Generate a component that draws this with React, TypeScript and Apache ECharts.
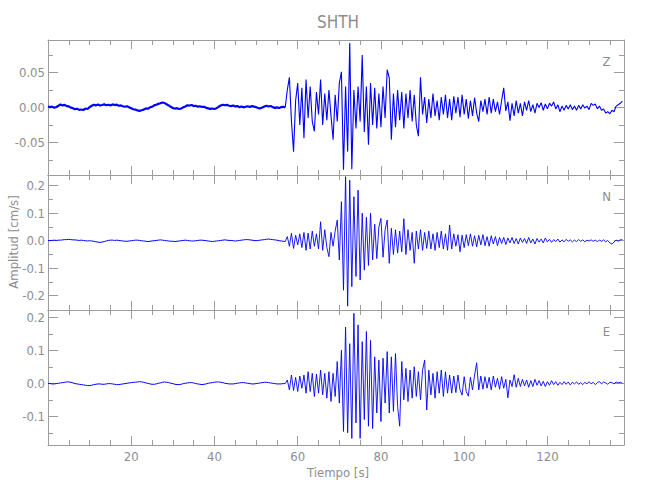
import React, { useEffect, useRef } from "react";
import * as echarts from "echarts";

// ---- sampling / x axis ----
const DT = 0.5; // seconds between samples
const X_MIN = 0;
const X_MAX = 138.4;
const xMajorTicks = [20, 40, 60, 80, 100, 120];
const xMinorTicks = [5, 10, 15, 25, 30, 35, 45, 50, 55, 65, 70, 75, 85, 90, 95, 105, 110, 115, 125, 130, 135];

// ---- Z component (cm/s), t = 0 .. 57 s ----
const zQuiet = [
  0.0015, 0.0005, 0.0012, -0.0002, 0.0008, 0.0025, 0.0042, 0.003, 0.0038, 0.002,
  0.0015, -0.0002, -0.001, -0.0025, -0.0018, -0.0034, -0.0028, -0.0036, -0.0015, -0.0022,
  0.0005, 0.0025, 0.004, 0.003, 0.0042, 0.0028, 0.0036, 0.0045, 0.0032, 0.004,
  0.003, 0.0044, 0.0035, 0.004, 0.0025, 0.003, 0.0018, 0.001, 0.0018, 0.0002,
  -0.001, -0.0025, -0.003, -0.0042, -0.0048, -0.004, -0.003, -0.0012, -0.0018, 0.0002,
  0.001, 0.003, 0.004, 0.0052, 0.006, 0.0072, 0.0065, 0.0045, 0.003, 0.001,
  -0.0008, -0.0015, -0.001, -0.0022, -0.0015, 0.0002, 0.0015, 0.0032, 0.0028, 0.0035,
  0.002, 0.0025, 0.0012, 0.0018, 0.0008, 0.001, -0.0005, -0.0012, -0.002, -0.0015,
  -0.0022, -0.001, 0.001, 0.0028, 0.004, 0.0032, 0.0038, 0.0025, 0.002, 0.0028,
  0.0015, 0.002, 0.0005, 0.0015, 0.0002, 0.001, 0.0018, 0.0008, 0.002, 0.0012,
  0.0005, -0.0008, -0.0012, 0.0, 0.0015, 0.0025, 0.0015, 0.0022, 0.0005, -0.0005,
  0.0002, -0.0008, 0.0005, 0.001, 0.0,
];
// ---- Z component (cm/s), t = 57.5 .. 138 s ----
const zActive = [
  0.025, 0.043, -0.02, -0.063, 0.01, 0.035, -0.025, 0.028, -0.044, 0.04,
  -0.015, 0.03, -0.02, -0.034, 0.022, -0.01, 0.04, -0.025, 0.02, -0.018,
  0.025, -0.012, -0.046, 0.018, -0.02, 0.035, 0.051, -0.089, 0.03, -0.063,
  0.092, -0.088, 0.025, -0.03, 0.03, -0.02, 0.075, -0.035, 0.03, -0.053,
  0.035, -0.025, 0.028, -0.03, 0.02, -0.028, 0.03, -0.015, 0.054, 0.042,
  -0.046, 0.02, -0.028, 0.025, -0.018, 0.022, -0.03, 0.02, -0.015, 0.025,
  -0.02, 0.018, -0.025, -0.041, 0.043, -0.01, 0.015, -0.022, 0.012, -0.015,
  0.02, -0.012, 0.01, -0.018, 0.015, -0.01, 0.018, -0.015, 0.012, -0.018,
  0.016, -0.008, 0.015, -0.014, 0.018, -0.01, 0.012, -0.016, 0.01, -0.012,
  0.014, -0.008, -0.02, 0.01, -0.006, 0.012, -0.01, 0.015, -0.008, 0.012,
  -0.006, 0.008, -0.01, 0.01, 0.028, -0.005, 0.008, -0.019, 0.006, -0.012,
  0.01, -0.008, 0.006, -0.012, 0.008, -0.004, 0.01, -0.006, 0.004, -0.008,
  0.006, 0.0, 0.007, -0.004, 0.005, -0.002, 0.006, 0.002, 0.008, -0.002,
  0.004, -0.006, 0.002, -0.004, 0.003, -0.002, 0.004, -0.003, 0.002, -0.004,
  0.003, -0.002, 0.004, -0.001, 0.002, -0.003, 0.006, 0.003, 0.005, -0.002,
  0.002, -0.004, -0.002, -0.008, -0.006, -0.009, -0.004, -0.006, 0.002, 0.004,
  0.006, 0.009,
];

// ---- N component (cm/s) ----
const nQuiet = [
  0.0, 0.001, 0.001, 0.002, 0.001, 0.002, 0.002, 0.003, 0.004, 0.004,
  0.005, 0.004, 0.003, 0.003, 0.002, 0.001, 0.002, 0.001, 0.0, -0.001,
  0.0, -0.001, -0.002, -0.004, -0.005, -0.006, -0.005, -0.003, -0.001, 0.001,
  0.002, 0.002, 0.001, 0.002, 0.001, 0.0, -0.001, -0.002, -0.002, -0.001,
  0.0, 0.001, 0.002, 0.002, 0.001, 0.0, -0.001, -0.002, -0.003, -0.002,
  -0.001, 0.0, 0.001, 0.002, 0.003, 0.002, 0.001, 0.0, -0.001, -0.002,
  -0.002, -0.003, -0.002, -0.001, 0.0, 0.001, 0.002, 0.001, 0.0, -0.001,
  -0.001, 0.0, 0.001, 0.002, 0.002, 0.001, 0.0, -0.001, -0.002, -0.003,
  -0.002, -0.001, 0.0, 0.001, 0.002, 0.003, 0.002, 0.001, 0.001, 0.0,
  -0.001, 0.0, 0.001, 0.002, 0.003, 0.004, 0.004, 0.003, 0.002, 0.001,
  0.0, 0.001, 0.002, 0.003, 0.004, 0.005, 0.006, 0.005, 0.004, 0.003,
  0.002, 0.0, -0.001, -0.002, -0.003,
];
const nActive = [
  0.015, -0.02, 0.027, -0.028, 0.02, -0.015, 0.025, -0.025, 0.03, -0.035,
  0.028, -0.03, 0.035, -0.02, 0.025, -0.03, 0.069, -0.035, 0.04, -0.025,
  -0.058, 0.03, -0.02, 0.035, 0.075, -0.07, 0.142, -0.18, 0.233, -0.238,
  0.22, -0.167, 0.16, -0.13, 0.184, -0.143, 0.1, -0.107, 0.085, -0.09,
  0.1, -0.07, 0.06, -0.065, 0.05, 0.081, -0.06, 0.04, 0.075, -0.082,
  0.045, -0.05, 0.04, -0.045, 0.035, -0.04, 0.08, -0.05, 0.04, -0.035,
  0.03, -0.082, 0.035, -0.03, 0.04, -0.035, 0.03, -0.028, 0.035, -0.03,
  0.025, -0.035, 0.03, -0.025, 0.035, -0.03, 0.025, -0.035, 0.057, -0.03,
  0.025, -0.02, 0.022, -0.04, 0.02, -0.025, 0.022, -0.018, 0.025, -0.02,
  0.018, -0.022, 0.02, -0.015, 0.022, -0.018, 0.015, -0.02, 0.018, -0.012,
  0.015, -0.018, 0.012, -0.01, 0.012, -0.014, 0.01, -0.008, 0.012, -0.01,
  0.008, -0.012, 0.01, -0.006, 0.008, -0.01, 0.012, -0.008, 0.006, -0.012,
  0.008, -0.005, 0.006, -0.008, 0.01, -0.004, 0.005, -0.006, 0.004, -0.003,
  0.006, -0.005, 0.003, -0.004, 0.005, -0.002, 0.003, -0.004, 0.002, -0.003,
  0.004, -0.002, 0.003, -0.004, 0.002, -0.001, 0.003, -0.002, 0.002, -0.003,
  0.002, -0.002, 0.003, -0.004, 0.001, -0.008, -0.012, -0.005, 0.002, -0.002,
  0.003, 0.004,
];

// ---- E component (cm/s) ----
const eQuiet = [
  0.0, -0.001, -0.002, -0.002, -0.001, 0.0, 0.001, 0.002, 0.003, 0.004,
  0.004, 0.003, 0.001, -0.001, -0.002, -0.003, -0.004, -0.005, -0.006, -0.007,
  -0.007, -0.006, -0.004, -0.003, -0.002, -0.002, -0.003, -0.003, -0.002, -0.001,
  -0.001, -0.002, -0.003, -0.004, -0.004, -0.003, -0.002, -0.001, 0.0, 0.001,
  0.002, 0.003, 0.003, 0.004, 0.005, 0.004, 0.003, 0.001, 0.0, -0.002,
  -0.003, -0.003, -0.002, 0.0, 0.001, 0.003, 0.004, 0.003, 0.002, 0.0,
  -0.001, -0.003, -0.004, -0.004, -0.003, -0.001, 0.0, 0.001, 0.002, 0.002,
  0.001, -0.001, -0.002, -0.003, -0.004, -0.003, -0.002, 0.0, 0.001, 0.002,
  0.003, 0.004, 0.004, 0.003, 0.002, 0.0, -0.001, -0.002, -0.002, -0.002,
  -0.001, 0.0, 0.001, 0.002, 0.002, 0.001, 0.0, -0.001, -0.002, -0.002,
  -0.001, 0.0, 0.001, 0.002, 0.003, 0.003, 0.002, 0.001, 0.0, -0.001,
  -0.002, -0.002, -0.002, -0.001, -0.001,
];
const eActive = [
  0.01, -0.02, 0.025, -0.022, 0.018, -0.025, 0.022, -0.015, 0.025, -0.03,
  0.035, -0.025, 0.03, -0.04, 0.028, -0.03, 0.04, -0.035, 0.03, -0.045,
  0.035, -0.055, 0.03, -0.04, 0.066, -0.06, 0.1, -0.146, 0.17, -0.15,
  0.12, -0.167, 0.212, -0.12, 0.177, -0.167, 0.126, -0.11, 0.157, -0.13,
  0.13, -0.137, 0.08, -0.09, 0.07, -0.116, 0.076, -0.06, 0.096, -0.09,
  0.08, -0.085, 0.09, -0.07, -0.13, 0.066, -0.05, 0.045, -0.055, 0.04,
  -0.045, 0.05, -0.04, 0.035, -0.05, 0.04, 0.07, -0.081, 0.04, -0.035,
  0.03, -0.045, 0.035, -0.03, 0.04, -0.04, 0.035, -0.03, 0.025, -0.03,
  0.022, -0.028, 0.025, -0.02, -0.036, 0.02, -0.025, -0.039, 0.018, -0.02,
  0.025, 0.062, -0.02, 0.022, -0.018, 0.02, -0.015, 0.018, -0.02, 0.022,
  -0.012, 0.015, -0.018, 0.02, -0.015, 0.012, -0.044, 0.01, -0.01, 0.026,
  -0.012, 0.015, -0.01, 0.012, -0.008, 0.01, -0.012, 0.008, -0.01, 0.012,
  -0.006, 0.008, -0.008, 0.006, -0.01, 0.005, -0.006, 0.008, -0.004, 0.005,
  -0.006, 0.003, -0.004, 0.005, -0.003, 0.004, -0.005, 0.003, -0.002, 0.004,
  -0.003, 0.002, -0.004, 0.003, -0.002, 0.005, -0.002, 0.003, -0.004, 0.002,
  0.005, -0.002, 0.004, 0.001, -0.003, 0.003, 0.002, -0.002, 0.004, 0.001,
  0.003, 0.0,
];

// ---- y axes ----
const zRange = [-0.0964, 0.0964];
const nRange = [-0.252, 0.239];
const eRange = [-0.187, 0.222];
const zMajor = [-0.05, 0, 0.05];
const zMinor = [-0.075, -0.025, 0.025, 0.075];
const nMajor = [-0.2, -0.1, 0, 0.1, 0.2];
const nMinor = [-0.15, -0.05, 0.05, 0.15];
const eMajor = [-0.1, 0, 0.1, 0.2];
const eMinor = [-0.15, -0.05, 0.05, 0.15];

const TITLE = "SHTH";
const X_NAME = "Tiempo [s]";
const Y_NAME = "Amplitud [cm/s]";

const FONT = '"Liberation Sans Narrow", "DejaVu Sans Condensed", "Roboto Condensed", sans-serif';
const TEXT = "#8e8e8e";
const LINE = "#9c9c9c";
const TRACE = "#0000ff";

export default function App() {
  const ref = useRef<HTMLDivElement>(null);

  useEffect(() => {
    if (!ref.current) return;
    const chart = echarts.init(ref.current, null, { renderer: "svg" });

    const panels = [
      { name: "Z", quiet: zQuiet, active: zActive, range: zRange, major: zMajor, minor: zMinor, dec: 2, top: 40, wq: 2.2, wa: 1.1 },
      { name: "N", quiet: nQuiet, active: nActive, range: nRange, major: nMajor, minor: nMinor, dec: 1, top: 175, wq: 1, wa: 0.9 },
      { name: "E", quiet: eQuiet, active: eActive, range: eRange, major: eMajor, minor: eMinor, dec: 1, top: 310, wq: 1, wa: 0.9 },
    ];
    const H = 135;
    const LEFT = 48;
    const W = 576;

    const grids: any[] = [];
    const xAxes: any[] = [];
    const yAxes: any[] = [];
    const series: any[] = [];
    const lineStyle = { color: LINE, width: 1 };

    panels.forEach((p, g) => {
      grids.push({ left: LEFT, top: p.top, width: W, height: H, containLabel: false });
      const xb = {
        type: "value", gridIndex: g, min: X_MIN, max: X_MAX,
        splitLine: { show: false },
      };
      const mk = (pos: string, vals: number[], len: number, showLine: boolean, labels: boolean) => ({
        ...xb,
        position: pos,
        axisLine: { show: showLine, onZero: false, lineStyle },
        axisTick: { show: true, inside: true, length: len, customValues: vals, lineStyle },
        axisLabel: labels
          ? { show: true, customValues: vals, color: TEXT, fontFamily: FONT, fontSize: 13, margin: 5 }
          : { show: false },
      });
      xAxes.push(mk("bottom", xMajorTicks, 9, true, g === 2));
      xAxes.push(mk("bottom", xMinorTicks, 5, false, false));
      xAxes.push(mk("top", xMajorTicks, 9, true, false));
      xAxes.push(mk("top", xMinorTicks, 5, false, false));

      const yb = {
        type: "value", gridIndex: g, min: p.range[0], max: p.range[1],
        splitLine: { show: false },
      };
      const mky = (pos: string, vals: number[], len: number, showLine: boolean, labels: boolean) => ({
        ...yb,
        position: pos,
        axisLine: { show: showLine, onZero: false, lineStyle },
        axisTick: { show: true, inside: true, length: len, customValues: vals, lineStyle },
        axisLabel: labels
          ? {
              show: true, customValues: vals, color: TEXT, fontFamily: FONT, fontSize: 13, margin: 3,
              formatter: (v: number) => v.toFixed(p.dec),
            }
          : { show: false },
      });
      yAxes.push(mky("left", p.major, 10, true, true));
      yAxes.push(mky("left", p.minor, 5, false, false));
      yAxes.push(mky("right", p.major, 10, true, false));
      yAxes.push(mky("right", p.minor, 5, false, false));

      const all = [...p.quiet, ...p.active].map((v, i) => [i * DT, v]);
      const nq = p.quiet.length;
      series.push({
        type: "line", name: p.name + " pre", xAxisIndex: g * 4, yAxisIndex: g * 4,
        data: all.slice(0, nq), symbol: "none", showSymbol: false, silent: true,
        lineStyle: { color: TRACE, width: p.wq },
      });
      series.push({
        type: "line", name: p.name, xAxisIndex: g * 4, yAxisIndex: g * 4,
        data: all.slice(nq - 1), symbol: "none", showSymbol: false, silent: true,
        lineStyle: { color: TRACE, width: p.wa },
      });
    });

    const texts: any[] = [
      { type: "text", x: 338, y: 22, style: { text: TITLE, font: `17px ${FONT}`, fill: TEXT, align: "center", verticalAlign: "middle" } },
      { type: "text", x: 338, y: 472, style: { text: X_NAME, font: `13px ${FONT}`, fill: TEXT, align: "center", verticalAlign: "middle" } },
      { type: "text", x: 13, y: 242, rotation: Math.PI / 2, style: { text: Y_NAME, font: `13px ${FONT}`, fill: TEXT, align: "center", verticalAlign: "middle" } },
    ];
    const letterY = [61, 196, 331.5];
    panels.forEach((p, g) => {
      texts.push({ type: "text", x: 606.5, y: letterY[g], style: { text: p.name, font: `13px ${FONT}`, fill: TEXT, align: "center", verticalAlign: "middle" } });
    });

    chart.setOption({
      animation: false,
      backgroundColor: "#ffffff",
      grid: grids,
      xAxis: xAxes,
      yAxis: yAxes,
      series,
      graphic: texts,
    });

    return () => chart.dispose();
  }, []);

  return <div ref={ref} style={{ position: "absolute", left: 0, top: 0, width: 650, height: 500 }} />;
}
